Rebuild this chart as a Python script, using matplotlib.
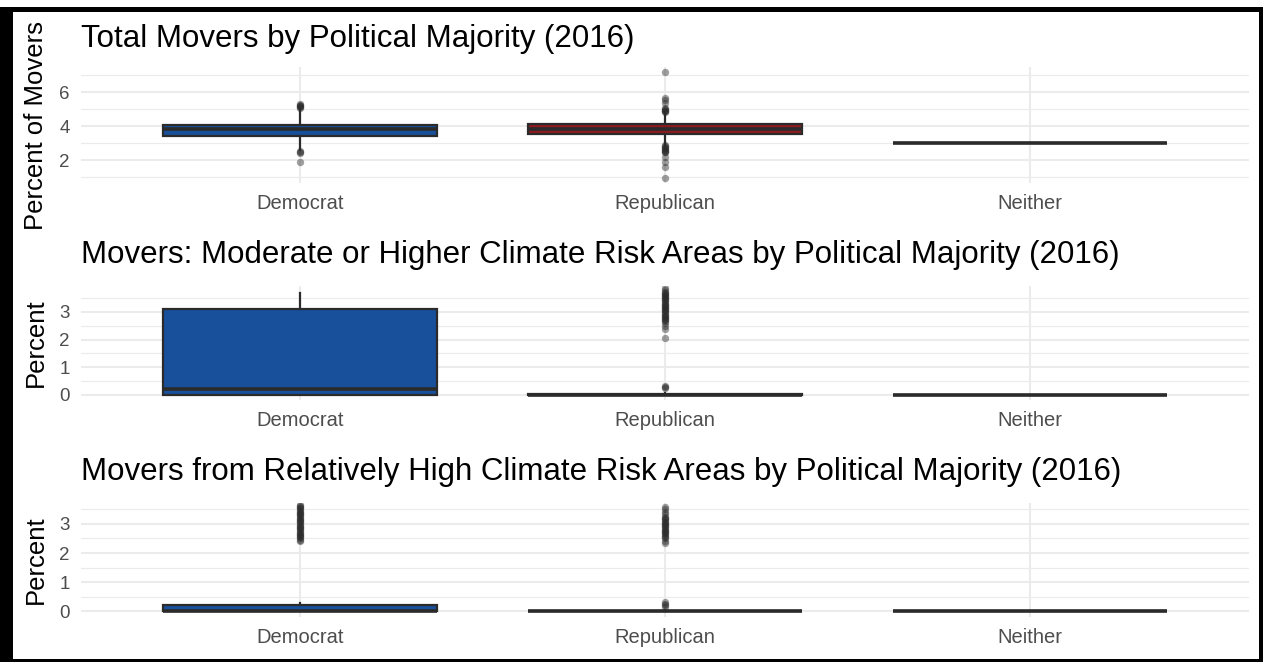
import matplotlib
matplotlib.use("Agg")
import matplotlib.pyplot as plt
from matplotlib.patches import Rectangle

plt.rcParams['font.family'] = ['Liberation Sans', 'DejaVu Sans']

categories = ["Democrat", "Republican", "Neither"]
fills = ["#19509b", "#8e1a1e", "#7f7f7f"]

# total movers (percent)
total_q1 = [3.41, 3.55, 3.0]
total_med = [3.82, 3.84, 3.0]
total_q3 = [4.06, 4.12, 3.0]
total_lo = [2.60, 2.80, 3.0]
total_hi = [5.00, 4.80, 3.0]
total_out = [
    [5.05, 5.1, 5.15, 5.2, 5.25, 5.3, 2.52, 2.48, 2.44, 1.88],
    [4.82, 4.86, 4.9, 4.95, 5.0, 5.05, 5.35, 5.53, 5.65, 7.18,
     2.86, 2.8, 2.75, 2.7, 2.65, 2.6, 2.55, 2.5, 2.45, 2.18, 1.88, 1.59, 0.94],
    [],
]

# movers into moderate or higher climate risk areas
mod_q1 = [0.0, 0.0, 0.0]
mod_med = [0.2, 0.0, 0.0]
mod_q3 = [3.12, 0.03, 0.0]
mod_lo = [0.0, 0.0, 0.0]
mod_hi = [3.68, 0.06, 0.0]
mod_out = [
    [],
    [3.88, 3.78, 3.74, 3.7, 3.66, 3.62, 3.58, 3.54, 3.5, 3.46, 3.42, 3.38,
     3.34, 3.3, 3.26, 3.22, 3.18, 3.14, 3.1, 3.06, 3.02, 2.98, 2.94, 2.9,
     2.86, 2.82, 2.78, 2.74, 2.7, 2.66, 2.6, 2.5, 2.4, 2.06, 0.3, 0.28, 0.26],
    [],
]

# movers from relatively high climate risk areas
high_q1 = [0.0, 0.0, 0.0]
high_med = [0.0, 0.0, 0.0]
high_q3 = [0.2, 0.02, 0.0]
high_lo = [0.0, 0.0, 0.0]
high_hi = [0.27, 0.05, 0.0]
high_out = [
    [3.66, 3.62, 3.58, 3.54, 3.5, 3.46, 3.42, 3.38, 3.34, 3.3, 3.26, 3.22,
     3.18, 3.14, 3.1, 3.06, 3.02, 2.98, 2.94, 2.9, 2.86, 2.82, 2.78, 2.74,
     2.7, 2.66, 2.62, 2.58, 2.54, 2.5, 2.45, 2.4],
    [3.59, 3.5, 3.42, 3.34, 3.24, 3.2, 3.16, 3.12, 3.08, 3.04, 3.0, 2.96,
     2.92, 2.88, 2.84, 2.8, 2.76, 2.72, 2.68, 2.64, 2.6, 2.56, 2.5, 2.42,
     2.34, 0.31, 0.26, 0.2, 0.15],
    [],
]

W, H = 1265, 662
fig = plt.figure(figsize=(W / 100, H / 100), dpi=100)


def fx(px):
    return px / W


def fy(py):
    return 1 - py / H


panels = [
    dict(title="Total Movers by Political Majority (2016)",
         ylabel="Percent of Movers", top=67, bottom=183,
         ylim=(0.65, 7.47), major=[2, 4, 6], minor=[1, 3, 5, 7],
         stats=(total_q1, total_med, total_q3, total_lo, total_hi, total_out),
         title_y=47),
    dict(title="Movers: Moderate or Higher Climate Risk Areas by Political Majority (2016)",
         ylabel="Percent", top=286, bottom=400,
         ylim=(-0.19, 3.94), major=[0, 1, 2, 3], minor=[0.5, 1.5, 2.5, 3.5],
         stats=(mod_q1, mod_med, mod_q3, mod_lo, mod_hi, mod_out),
         title_y=263),
    dict(title="Movers from Relatively High Climate Risk Areas by Political Majority (2016)",
         ylabel="Percent", top=503, bottom=617,
         ylim=(-0.2, 3.72), major=[0, 1, 2, 3], minor=[0.5, 1.5, 2.5, 3.5],
         stats=(high_q1, high_med, high_q3, high_lo, high_hi, high_out),
         title_y=480),
]

left, right = 81, 1249
edge = "#2b2b2b"

for p in panels:
    ax = fig.add_axes([fx(left), fy(p["bottom"]), (right - left) / W,
                       (p["bottom"] - p["top"]) / H])
    q1, med, q3, lo, hi, out = p["stats"]
    stats = []
    for i, cat in enumerate(categories):
        stats.append(dict(label=cat, q1=q1[i], med=med[i], q3=q3[i],
                          whislo=lo[i], whishi=hi[i], fliers=out[i]))
    bp = ax.bxp(stats, positions=[1, 2, 3], widths=0.75, patch_artist=True,
                showcaps=False,
                boxprops=dict(edgecolor=edge, linewidth=1.6),
                medianprops=dict(color=edge, linewidth=2.6,
                                 solid_capstyle='butt'),
                whiskerprops=dict(color=edge, linewidth=1.6),
                flierprops=dict(marker='o', markerfacecolor='#2b2b2b',
                                markeredgecolor='none', alpha=0.45,
                                markersize=5.3))
    for box, c in zip(bp["boxes"], fills):
        box.set_facecolor(c)

    ax.set_xlim(0.4, 3.6)
    ax.set_ylim(*p["ylim"])
    ax.set_yticks(p["major"])
    ax.set_yticks(p["minor"], minor=True)
    ax.set_axisbelow(True)
    ax.grid(True, which='major', color='#ebebeb', linewidth=1.5)
    ax.yaxis.grid(True, which='minor', color='#ebebeb', linewidth=0.8)
    for s in ax.spines.values():
        s.set_visible(False)
    ax.tick_params(axis='both', which='both', length=0, labelcolor='#4d4d4d')
    ax.tick_params(axis='y', labelsize=13.5, pad=8)
    ax.tick_params(axis='x', labelsize=14.5, pad=8)

    fig.text(fx(left), fy(p["title_y"]), p["title"], fontsize=22.5,
             ha='left', va='baseline', color='black')

    fig.text(fx(36), fy((p["top"] + p["bottom"]) / 2), p["ylabel"],
             fontsize=18.5, rotation=90, ha='center', va='center',
             color='black')

# black frame round the figure
for x0, y0, x1, y1 in [(0, 7, 1263, 12), (0, 7, 13, 662),
                       (1259, 7, 1263, 662), (0, 659, 1263, 662)]:
    fig.add_artist(Rectangle((fx(x0), fy(y1)), (x1 - x0) / W, (y1 - y0) / H,
                             transform=fig.transFigure, facecolor='black',
                             edgecolor='none'))

fig.savefig("out.png", dpi=100)
